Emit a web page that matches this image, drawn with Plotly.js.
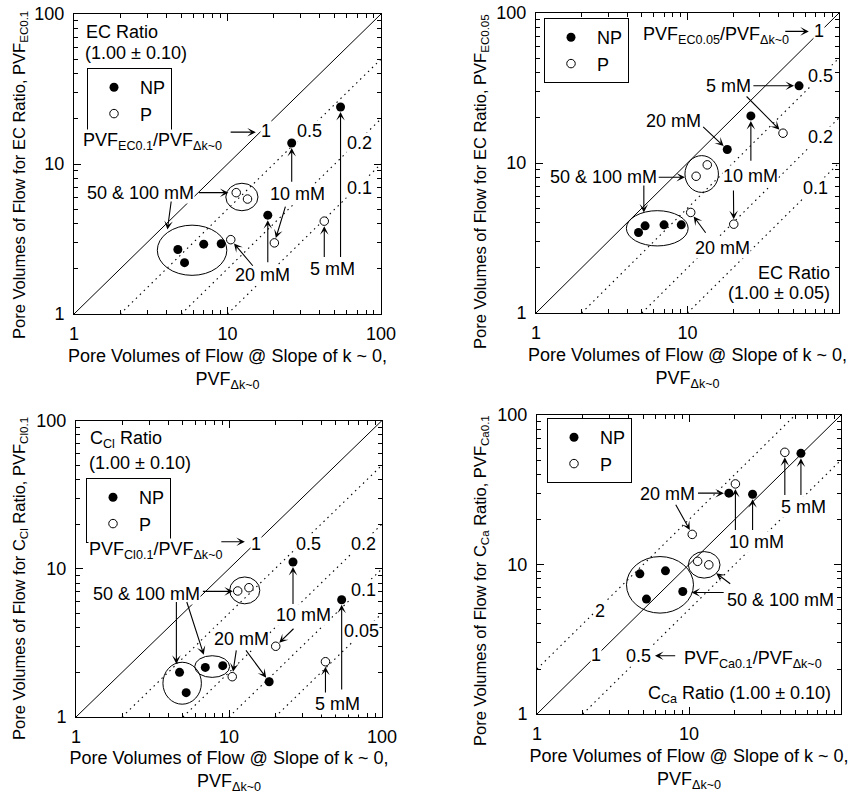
<!DOCTYPE html>
<html>
<head>
<meta charset="utf-8">
<script src="https://cdn.plot.ly/plotly-3.0.1.min.js"></script>
<style>html,body{margin:0;padding:0;background:#fff;}</style>
</head>
<body>
<div id="chart" style="width:852px;height:794px;"></div>
<script>
// Pore volumes of flow at slope k ~ 0 (x), non-preloaded (NP) and preloaded (P) columns.
// NP order: 50 & 100 mM (4 columns), 20 mM, 10 mM, 5 mM
// P order:  20 mM, 50 & 100 mM (2 columns), 10 mM, 5 mM
const npPVF = [4.75, 5.25, 7.0, 9.1, 18.3, 26.2, 54.5];
const pPVF  = [10.5, 11.4, 13.5, 20.2, 42.7];

// Pore volumes of flow at each breakthrough criterion (y)
const npEC01  = [2.69, 2.2, 2.92, 2.94, 4.56, 13.8, 24.0];
const pEC01   = [3.13, 6.44, 5.84, 2.98, 4.16];
const npEC005 = [3.44, 3.81, 3.87, 3.87, 12.3, 20.6, 32.7];
const pEC005  = [4.68, 8.16, 9.72, 3.91, 15.8];
const npCl01  = [2.0, 1.46, 2.16, 2.22, 1.73, 11.1, 6.18];
const pCl01   = [1.87, 7.08, 7.45, 3.0, 2.36];
const npCa01  = [8.66, 5.87, 9.07, 6.6, 30.0, 29.5, 55.4];
const pCa01   = [15.9, 10.5, 9.95, 34.6, 56.3];

// Reference lines PVF_criterion / PVF_Δk~0
const ratiosEC01  = [1, 0.5, 0.2, 0.1];
const ratiosEC005 = [1, 0.5, 0.2, 0.1];
const ratiosCl01  = [1, 0.5, 0.2, 0.1, 0.05];
const ratiosCa01  = [2, 1, 0.5];

// Axis ticks
const axisMin = 1, axisMax = 100;
const tickVals = [1, 10, 100];
const tickText = ['1', '10', '100'];
const minorVals = [2, 3, 4, 5, 6, 7, 8, 9, 20, 30, 40, 50, 60, 70, 80, 90];

const FONT = '"Liberation Sans", Arial, Helvetica, sans-serif';
const W = 852, H = 794;
const xTitle = 'Pore Volumes of Flow @ Slope of k ~ 0,<br>PVF<sub>Δk~0</sub>';

// plot-area boxes in pixels: [left, top, right, bottom]
const boxes = [
  [74, 14, 381, 314],
  [536, 13, 839, 313],
  [76, 420.5, 382, 717],
  [537, 415, 841, 714]
];
const legendPos = [[87, 68], [544, 18], [86, 478], [547, 418]];
const yTitlePos = [[20, 175], [481, 182], [20, 579], [481, 581]];

const panels = [
  {np: npEC01,  p: pEC01,  ratios: ratiosEC01,  yTitle: 'Pore Volumes of Flow for EC Ratio, PVF<sub>EC0.1</sub>'},
  {np: npEC005, p: pEC005, ratios: ratiosEC005, yTitle: 'Pore Volumes of Flow for EC Ratio, PVF<sub>EC0.05</sub>'},
  {np: npCl01,  p: pCl01,  ratios: ratiosCl01,  yTitle: 'Pore Volumes of Flow for C<sub>Cl</sub> Ratio, PVF<sub>Cl0.1</sub>'},
  {np: npCa01,  p: pCa01,  ratios: ratiosCa01,  yTitle: 'Pore Volumes of Flow for C<sub>Ca</sub> Ratio, PVF<sub>Ca0.1</sub>'}
];

const L = Math.log10;
const xr = n => n === 1 ? 'x' : 'x' + n;
const yr = n => n === 1 ? 'y' : 'y' + n;

function axisDef(domain, anchor, title, isX) {
  return {
    type: 'log', range: [L(axisMin), L(axisMax)], domain: domain, anchor: anchor,
    tickmode: 'array', tickvals: tickVals, ticktext: tickText,
    ticks: 'inside', ticklen: 7, tickwidth: 1, tickcolor: '#000',
    showline: true, linecolor: '#000', linewidth: 1, mirror: 'ticks',
    showgrid: false, zeroline: false, ticklabelstandoff: isX ? 3 : 5,
    minor: {tickmode: 'array', tickvals: minorVals, ticks: 'inside', ticklen: 4, tickwidth: 1, tickcolor: '#000', showgrid: false},
    tickfont: {family: FONT, size: 18, color: '#000'},
    title: {text: title, font: {family: FONT, size: 18, color: '#000'}, standoff: 6}
  };
}

const layout = {
  width: W, height: H,
  margin: {l: 0, r: 0, t: 0, b: 0},
  paper_bgcolor: '#fff', plot_bgcolor: '#fff',
  font: {family: FONT, size: 18, color: '#000'},
  annotations: [], shapes: []
};
const data = [];
const yTitles = [];

panels.forEach((pn, i) => {
  const n = i + 1;
  const b = boxes[i];
  const xd = [b[0] / W, b[2] / W], yd = [1 - b[3] / H, 1 - b[1] / H];
  layout[n === 1 ? 'xaxis' : 'xaxis' + n] = axisDef(xd, yr(n), xTitle, true);
  layout[n === 1 ? 'yaxis' : 'yaxis' + n] = axisDef(yd, xr(n), '', false);
  // vertical axis title, set beside the tick labels
  yTitles.push({
    xref: 'paper', yref: 'paper', x: yTitlePos[i][0] / W, y: 1 - yTitlePos[i][1] / H,
    xanchor: 'center', yanchor: 'middle', textangle: -90, showarrow: false,
    text: pn.yTitle, font: {family: FONT, size: 16.5, color: '#000'}
  });
  const legId = n === 1 ? 'legend' : 'legend' + n;
  layout[legId] = {
    x: legendPos[i][0] / W, y: 1 - legendPos[i][1] / H, xanchor: 'left', yanchor: 'top',
    bgcolor: '#fff', bordercolor: '#000', borderwidth: 1,
    font: {family: FONT, size: 18, color: '#000'}, itemwidth: 42, tracegroupgap: 0
  };

  // ratio lines across the 1..100 window
  pn.ratios.forEach(r => {
    const x0 = Math.max(axisMin, axisMin / r), x1 = Math.min(axisMax, axisMax / r);
    data.push({
      type: 'scatter', mode: 'lines', x: [x0, x1], y: [r * x0, r * x1],
      xaxis: xr(n), yaxis: yr(n), showlegend: false, hoverinfo: 'skip',
      line: {color: '#000', width: r === 1 ? 1 : 1.1, dash: r === 1 ? 'solid' : '1.5px,4px'}
    });
  });

  data.push({
    type: 'scatter', mode: 'markers', name: 'NP', x: npPVF, y: pn.np,
    xaxis: xr(n), yaxis: yr(n), legend: legId, showlegend: true,
    marker: {symbol: 'circle', size: 9, color: '#000', line: {width: 0}}
  });
  data.push({
    type: 'scatter', mode: 'markers', name: 'P', x: pPVF, y: pn.p,
    xaxis: xr(n), yaxis: yr(n), legend: legId, showlegend: true,
    marker: {symbol: 'circle', size: 8.5, color: '#fff', line: {color: '#000', width: 1}}
  });
});

// text label at data position
function T(n, x, y, t, anchor) {
  return {
    xref: xr(n), yref: yr(n), x: L(x), y: L(y), text: t, showarrow: false,
    xanchor: anchor || 'center', yanchor: 'middle',
    font: {family: FONT, size: 18, color: '#000'}, bgcolor: '#fff', borderpad: 0
  };
}
// arrow from (x0,y0) to (x1,y1) in data units
function A(n, x0, y0, x1, y1, so) {
  return {
    xref: xr(n), yref: yr(n), axref: xr(n), ayref: yr(n),
    x: L(x1), y: L(y1), ax: L(x0), ay: L(y0), text: '', showarrow: true,
    arrowhead: 3, arrowsize: 1.3, arrowwidth: 1.1, arrowcolor: '#000', standoff: so || 0
  };
}
// ellipse around a group of columns
function E(n, x0, x1, y0, y1) {
  return {type: 'circle', xref: xr(n), yref: yr(n), x0: x0, x1: x1, y0: y0, y1: y1,
          line: {color: '#000', width: 1}, fillcolor: 'rgba(0,0,0,0)'};
}
const so = 5;

const texts = [
  // EC ratio, 0.10 criterion
  T(1, 1.18, 75.4, 'EC Ratio', 'left'),
  T(1, 1.16, 55.3, '(1.00 ± 0.10)', 'left'),
  T(1, 1.13, 14.1, 'PVF<sub>EC0.1</sub>/PVF<sub>Δk~0</sub>', 'left'),
  T(1, 17.8, 16.5, '1'), T(1, 34.1, 16.5, '0.5'), T(1, 72.2, 13.7, '0.2'), T(1, 72.2, 6.89, '0.1'),
  T(1, 2.72, 6.44, '50 & 100 mM'), T(1, 28.6, 6.31, '10 mM'),
  T(1, 16.9, 1.81, '20 mM'), T(1, 48.4, 2.0, '5 mM'),
  // EC ratio, 0.05 criterion
  T(2, 4.97, 70.5, 'PVF<sub>EC0.05</sub>/PVF<sub>Δk~0</sub>', 'left'),
  T(2, 73.7, 75.4, '1'), T(2, 75.6, 38.2, '0.5'), T(2, 75.6, 14.9, '0.2'), T(2, 70, 6.78, '0.1'),
  T(2, 89, 1.85, 'EC Ratio', 'right'), T(2, 89, 1.36, '(1.00 ± 0.05)', 'right'),
  T(2, 18.7, 32.7, '5 mM'), T(2, 8.05, 19.0, '20 mM'), T(2, 16.9, 2.73, '20 mM'),
  T(2, 2.77, 8.04, '50 & 100 mM'), T(2, 25.9, 8.25, '10 mM'),
  // chloride
  T(3, 1.22, 75, 'C<sub>Cl</sub> Ratio', 'left'),
  T(3, 1.19, 51.6, '(1.00 ± 0.10)', 'left'),
  T(3, 1.19, 13.3, 'PVF<sub>Cl0.1</sub>/PVF<sub>Δk~0</sub>', 'left'),
  T(3, 15.1, 14.8, '1'), T(3, 33, 14.8, '0.5'), T(3, 75.8, 14.8, '0.2'), T(3, 75.8, 7.15, '0.1'), T(3, 74, 3.83, '0.05'),
  T(3, 2.88, 6.79, '50 & 100 mM'), T(3, 30.6, 4.84, '10 mM'), T(3, 12.1, 3.36, '20 mM'), T(3, 51.2, 1.22, '5 mM'),
  // calcium
  T(4, 7.2, 29.5, '20 mM'), T(4, 27.9, 14.2, '10 mM'), T(4, 56.7, 24.4, '5 mM'), T(4, 39.8, 5.81, '50 & 100 mM'),
  T(4, 2.59, 4.85, '2'), T(4, 2.46, 2.49, '1'), T(4, 4.63, 2.43, '0.5'),
  T(4, 9.18, 2.33, 'PVF<sub>Ca0.1</sub>/PVF<sub>Δk~0</sub>', 'left'),
  T(4, 87.2, 1.35, 'C<sub>Ca</sub> Ratio (1.00 ± 0.10)', 'right')
];

const arrows = [
  A(1, 10.25, 16.3, 15.3, 16.3),
  A(1, 6.37, 6.44, 10.15, 6.44),
  A(1, 4.31, 5.75, 4.06, 3.66),
  A(1, npPVF[5], 7.44, npPVF[5], npEC01[5], so),
  A(1, 24.0, 5.32, pPVF[3], pEC01[3], so),
  A(1, npPVF[4], 2.16, npPVF[4], npEC01[4], so),
  A(1, 14.9, 2.05, pPVF[0], pEC01[0], so),
  A(1, pPVF[4], 2.34, pPVF[4], pEC01[4], so),
  A(1, npPVF[6], 2.34, npPVF[6], npEC01[6], so),

  A(2, 43.2, 75.4, 63.2, 75.4),
  A(2, 26.6, npEC005[6], npPVF[6], npEC005[6], so),
  A(2, 24.0, 28.4, pPVF[4], pEC005[4], so),
  A(2, 12.4, 17.8, npPVF[4], npEC005[4], so),
  A(2, 13.4, 3.35, pPVF[0], pEC005[0], so),
  A(2, 6.31, 8.04, 9.62, 8.04),
  A(2, 5.15, 7.25, 5.15, 4.68),
  A(2, npPVF[5], 10.1, npPVF[5], npEC005[5], so),
  A(2, 20.1, 6.71, pPVF[3], pEC005[3], so),

  A(3, 8.71, 15.2, 12.7, 15.2),
  A(3, 6.6, 7.04, 10.6, 7.04),
  A(3, 4.53, 6.11, 4.53, 2.28),
  A(3, 5.26, 6.11, 6.84, 2.63),
  A(3, npPVF[5], 5.66, npPVF[5], npCl01[5], so),
  A(3, 27.0, 4.03, pPVF[3], pCl01[3], so),
  A(3, 11.2, 2.88, pPVF[0], pCl01[0], so),
  A(3, 12.7, 2.88, npPVF[4], npCl01[4], so),
  A(3, pPVF[4], 1.43, pPVF[4], pCl01[4], so),
  A(3, npPVF[6], 1.50, npPVF[6], npCl01[6], so),

  A(4, 11.2, npCa01[4], npPVF[4], npCa01[4], so),
  A(4, 8.08, 25.7, pPVF[0], pCa01[0], so),
  A(4, pPVF[3], 16.6, pPVF[3], pCa01[3], so),
  A(4, npPVF[5], 16.6, npPVF[5], npCa01[5], so),
  A(4, pPVF[4], 28.5, pPVF[4], pCa01[4], so),
  A(4, npPVF[6], 28.5, npPVF[6], npCa01[6], so),
  A(4, 17.3, 6.5, 10.4, 6.5),
  A(4, 19.1, 7.31, 15.1, 8.75),
  A(4, 8.3, 2.45, 5.97, 2.45)
];

layout.annotations = yTitles.concat(texts, arrows);
layout.shapes = [
  E(1, 9.75, 15.8, 4.88, 7.44), E(1, 3.49, 9.9, 1.81, 3.91),
  E(2, 9.62, 16.0, 6.37, 11.2), E(2, 3.95, 10.1, 2.8, 4.81),
  E(3, 10.1, 15.9, 5.8, 8.8), E(3, 3.7, 6.6, 1.22, 2.34), E(3, 5.97, 10.1, 1.85, 2.59),
  E(4, 3.88, 10.7, 4.73, 11.3), E(4, 9.9, 16, 8.11, 12.2)
];

Plotly.newPlot('chart', data, layout, {displayModeBar: false, staticPlot: true});
</script>
</body>
</html>
